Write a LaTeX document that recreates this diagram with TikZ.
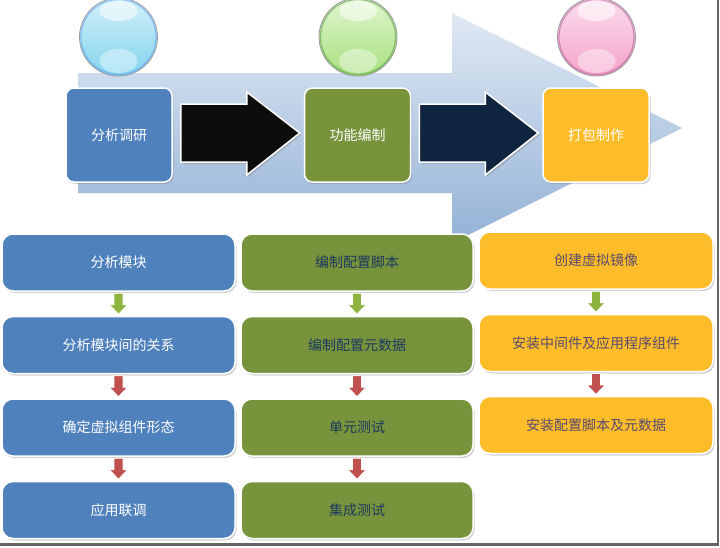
\documentclass[tikz,border=0pt]{standalone}
\usepackage{fontspec}
\newfontfamily\cjk{Noto Sans CJK SC}
\usetikzlibrary{shadows,calc,positioning}
\definecolor{cblue}{HTML}{4F81BD}
\definecolor{cgreen}{HTML}{77933C}
\definecolor{corange}{HTML}{FDBD2A}
\definecolor{cnavy}{HTML}{0F243E}
\definecolor{cblack}{HTML}{0D0D0D}
\definecolor{tnavy}{HTML}{1F3A5F}
\definecolor{tpurple}{HTML}{5A4A6E}
\definecolor{agreen}{HTML}{8DB43F}
\definecolor{ared}{HTML}{C0504D}
\definecolor{bgtop}{HTML}{E0E9F4}
\definecolor{bgbot}{HTML}{93B1D6}
\definecolor{sbluetop}{HTML}{D2F0FA}
\definecolor{sbluemid}{HTML}{84D4EE}
\definecolor{sgreentop}{HTML}{E0F5D0}
\definecolor{sgreenmid}{HTML}{A8E07E}
\definecolor{spinktop}{HTML}{FCDDEC}
\definecolor{spinkmid}{HTML}{F4A3C9}
\tikzset{
  topbox/.style={rectangle, rounded corners=8pt, draw=white, line width=1.5pt,
    minimum width=106pt, minimum height=94pt, inner sep=0pt,
    font=\cjk\fontsize{14}{16}\selectfont, text=white,
    drop shadow={shadow xshift=1.5pt, shadow yshift=-2pt, opacity=.35}},
  rowbox/.style={rectangle, rounded corners=11pt, draw=white, line width=1.5pt,
    minimum width=233pt, minimum height=57pt, inner sep=0pt,
    font=\cjk\fontsize{14}{16}\selectfont,
    drop shadow={shadow xshift=1.5pt, shadow yshift=-2pt, opacity=.35}},
  bluebox/.style={rowbox, fill=cblue, text=white},
  greenbox/.style={rowbox, fill=cgreen, text=tnavy},
  orangebox/.style={rowbox, fill=corange, text=tpurple},
  sphere/.style 2 args={circle, minimum size=78pt, inner sep=0pt, draw=black!40, line width=0.8pt,
    top color=#1, middle color=#2, bottom color=#2}
}
\newcommand\bigarr[3]{%
  \path[fill=#1, draw=white, line width=1.5pt,
    drop shadow={shadow xshift=1.5pt, shadow yshift=-2pt, opacity=.35}]
    let \p1=(#2.east), \p2=(#3.west) in
    (\x1+8pt,\y1+31pt) -- (\x2-57pt,\y1+31pt) -- (\x2-57pt,\y1+43pt) -- (\x2-4pt,\y1+2pt)
    -- (\x2-57pt,\y1-40pt) -- (\x2-57pt,\y1-27pt) -- (\x1+8pt,\y1-27pt) -- cycle;}
\newcommand\smallarr[3]{%
  \path[fill=#1, draw=white, line width=0.8pt]
    let \p1=(#2.south), \p2=(#3.north), \p3=($(\p1)!0.5!(\p2)$) in
    (\x1-4.5pt,\y3+10.5pt) -- (\x1+4.5pt,\y3+10.5pt) -- (\x1+4.5pt,\y3-1pt) -- (\x1+9pt,\y3-1pt)
    -- (\x1,\y3-10.5pt) -- (\x1-9pt,\y3-1pt) -- (\x1-4.5pt,\y3-1pt) -- cycle;}
\newcommand\glossy[2]{% node name, rim colour
  \draw[#2, line width=1.2pt, opacity=.5] (#1.center) circle [radius=37.5pt];
  \fill[white, opacity=.55] ($(#1.center)+(0,-26)$) ellipse [x radius=19pt, y radius=10pt];
  \fill[white, opacity=.4] ($(#1.center)+(0,24)$) ellipse [x radius=19pt, y radius=12pt];}
\begin{document}
\begin{tikzpicture}[x=1pt,y=-1pt]
\useasboundingbox (0,0) rectangle (720,547);
\fill[white] (0,0) rectangle (720,547);
% big background arrow
\shade[top color=bgtop, bottom color=bgbot]
  (78,73) -- (452,73) -- (452,13) -- (682,128) -- (452,243) -- (452,193) -- (78,193) -- cycle;
% spheres
\node[sphere={sbluetop}{sbluemid}] (s1) at (118.5,37) {};
\node[sphere={sgreentop}{sgreenmid}] (s2) at (358,37) {};
\node[sphere={spinktop}{spinkmid}] (s3) at (596.5,37) {};
\glossy{s1}{sbluemid!70!blue}
\glossy{s2}{sgreenmid!70!green!60!black}
\glossy{s3}{spinkmid!70!magenta!70!black}
% top boxes
\node[topbox, fill=cblue] (t1) at (119,135) {分析调研};
\node[topbox, fill=cgreen] (t2) at (357.5,135) {功能编制};
\node[topbox, fill=corange] (t3) at (596,135) {打包制作};
\bigarr{cblack}{t1}{t2}
\bigarr{cnavy}{t2}{t3}
% column 1
\node[bluebox] (a1) at (118.5,262.5) {分析模块};
\node[bluebox] (a2) at (118.5,345) {分析模块间的关系};
\node[bluebox] (a3) at (118.5,427.5) {确定虚拟组件形态};
\node[bluebox] (a4) at (118.5,510) {应用联调};
% column 2
\node[greenbox, minimum width=232pt] (b1) at (357,262.5) {编制配置脚本};
\node[greenbox, minimum width=232pt] (b2) at (357,345) {编制配置元数据};
\node[greenbox, minimum width=232pt] (b3) at (357,427.5) {单元测试};
\node[greenbox, minimum width=232pt] (b4) at (357,510) {集成测试};
% column 3
\node[orangebox, minimum width=234pt] (c1) at (596,260.5) {创建虚拟镜像};
\node[orangebox, minimum width=234pt] (c2) at (596,343) {安装中间件及应用程序组件};
\node[orangebox, minimum width=234pt] (c3) at (596,425) {安装配置脚本及元数据};
% small arrows
\smallarr{agreen}{a1}{a2}
\smallarr{ared}{a2}{a3}
\smallarr{ared}{a3}{a4}
\smallarr{agreen}{b1}{b2}
\smallarr{ared}{b2}{b3}
\smallarr{ared}{b3}{b4}
\smallarr{agreen}{c1}{c2}
\smallarr{ared}{c2}{c3}
% frame
\draw[black!60, line width=2.5pt] (0,544.5) -- (718,544.5) -- (718,0);
\end{tikzpicture}
\end{document}
